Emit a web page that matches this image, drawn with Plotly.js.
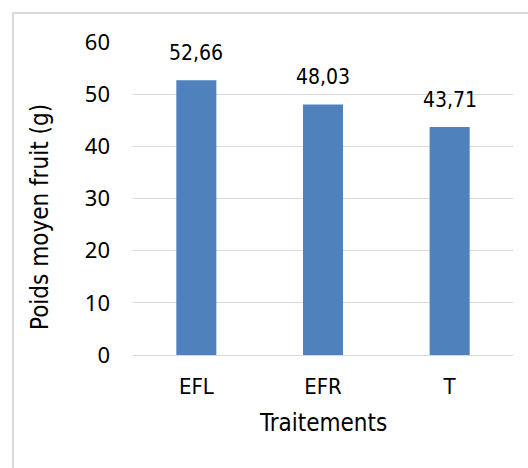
<!DOCTYPE html>
<html><head><meta charset="utf-8">
<script src="https://cdn.plot.ly/plotly-3.0.1.min.js"></script>
<style>
html,body{margin:0;padding:0;background:#fff;}
#wrap{position:relative;width:528px;height:468px;overflow:hidden;}
#frame{position:absolute;left:12px;top:12px;width:530px;height:470px;border:2px solid #d9d9d9;box-sizing:border-box;pointer-events:none;}
#chart{position:absolute;left:0;top:0;width:528px;height:468px;}
</style>
</head><body>
<div id="wrap"><div id="chart"></div><div id="frame"></div></div>
<script>
const categories = ["EFL", "EFR", "T"];
const values = [52.66, 48.03, 43.71];
const yTicks = [0, 10, 20, 30, 40, 50, 60];
const xTitle = "Traitements";
const yTitle = "Poids moyen fruit (g)";

const F = "DejaVu Sans Condensed";

const trace = {
  type: "bar",
  x: categories,
  y: values,
  marker: {color: "#4f81bd"},
  hoverinfo: "none"
};

const labelAnnotations = categories.map((c, i) => ({
  x: c, y: values[i], xref: "x", yref: "y",
  text: values[i].toFixed(2).replace(".", ","),
  showarrow: false, xanchor: "center", yanchor: "bottom", yshift: 13,
  font: {family: F, size: 21, color: "#000"}
}));

const layout = {
  width: 528, height: 468,
  margin: {l: 133, r: 15, t: 42, b: 113},
  paper_bgcolor: "rgba(0,0,0,0)",
  plot_bgcolor: "rgba(0,0,0,0)",
  bargap: 0.684,
  showlegend: false,
  xaxis: {
    type: "category",
    showgrid: false,
    showline: true, linecolor: "#d9d9d9", linewidth: 1,
    ticks: "", ticklabelstandoff: 12,
    tickfont: {family: F, size: 22, color: "#000"}
  },
  yaxis: {
    range: [0, 60],
    tickvals: yTicks,
    ticktext: yTicks.map(String),
    showgrid: true, gridcolor: "#d9d9d9", gridwidth: 1,
    zeroline: false, showline: false,
    ticks: "", ticklabelstandoff: 22,
    tickfont: {family: "Noto Sans", size: 22, color: "#000"}
  },
  annotations: labelAnnotations.concat([
    {text: xTitle, xref: "paper", yref: "paper", x: 0.5, y: 0, xanchor: "center", yanchor: "top",
     yshift: -52, showarrow: false, font: {family: F, size: 24, color: "#000"}},
    {text: yTitle, xref: "paper", yref: "paper", x: -0.2447, y: 0.4409, xanchor: "center", yanchor: "middle",
     textangle: -90, showarrow: false, font: {family: F, size: 24, color: "#000"}}
  ])
};

Plotly.newPlot("chart", [trace], layout, {displayModeBar: false, staticPlot: true});
</script>
</body></html>
